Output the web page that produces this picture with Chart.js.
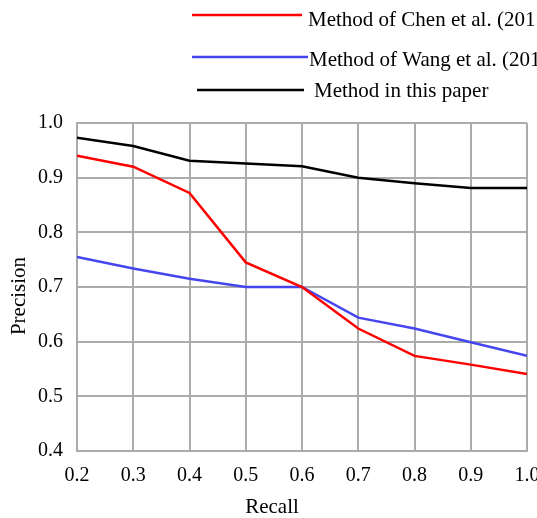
<!DOCTYPE html>
<html>
<head>
<meta charset="utf-8">
<script src="https://cdn.jsdelivr.net/npm/chart.js@4"></script>
<style>
  html, body { margin: 0; padding: 0; background: #fff; }
  #wrap { width: 537px; height: 518px; }
</style>
</head>
<body>
<div id="wrap"><canvas id="prChart" width="537" height="518"></canvas></div>
<script>
const recall = [0.2, 0.3, 0.4, 0.5, 0.6, 0.7, 0.8, 0.9, 1.0];
const chenPrecision = [0.94, 0.92, 0.872, 0.745, 0.70, 0.624, 0.574, 0.558, 0.541];
const wangPrecision = [0.755, 0.734, 0.715, 0.70, 0.70, 0.644, 0.624, 0.599, 0.574];
const oursPrecision = [0.973, 0.958, 0.931, 0.926, 0.921, 0.90, 0.89, 0.881, 0.881];
const seriesLabels = ['Method of Chen et al. (201', 'Method of Wang et al. (201', 'Method in this paper'];
const seriesColors = ['#ff0000', '#4646f0', '#000000'];
const xTitle = 'Recall';
const yTitle = 'Precision';

const serif = '"Liberation Serif", "DejaVu Serif", serif';
const gridCol = '#ababab';

function pts(vals) { return recall.map((r, i) => ({ x: r, y: vals[i] })); }

// legend lines + text, and the axis titles, placed like the figure
const legendPos = [
    { x0: 192, x1: 302, y: 15, tx: 308, ty: 26 },
    { x0: 192, x1: 308, y: 57, tx: 309, ty: 66 },
    { x0: 197, x1: 304, y: 90, tx: 314, ty: 97 }
];
const extras = {
    id: 'extras',
    afterDraw(chart) {
        const ctx = chart.ctx;
        ctx.save();
        ctx.font = '21px ' + serif;
        ctx.fillStyle = '#000';
        ctx.textBaseline = 'alphabetic';
        chart.data.datasets.forEach((ds, i) => {
            const p = legendPos[i];
            ctx.strokeStyle = ds.borderColor;
            ctx.lineWidth = 2.5;
            ctx.beginPath();
            ctx.moveTo(p.x0, p.y);
            ctx.lineTo(p.x1, p.y);
            ctx.stroke();
            ctx.textAlign = 'left';
            ctx.fillText(ds.label, p.tx, p.ty);
        });
        ctx.textAlign = 'center';
        ctx.fillText(xTitle, 272, 513);
        ctx.translate(25, 296);
        ctx.rotate(-Math.PI / 2);
        ctx.fillText(yTitle, 0, 0);
        ctx.restore();
    }
};

const ctx = document.getElementById('prChart').getContext('2d');
new Chart(ctx, {
    type: 'line',
    data: {
        datasets: [chenPrecision, wangPrecision, oursPrecision].map((vals, i) => ({
            label: seriesLabels[i],
            data: pts(vals),
            borderColor: seriesColors[i],
            backgroundColor: seriesColors[i],
            borderWidth: 2.5,
            pointRadius: 0,
            tension: 0,
            fill: false
        }))
    },
    options: {
        responsive: false,
        animation: false,
        layout: { padding: { top: 123, right: 10, left: 0, bottom: 0 } },
        plugins: { legend: { display: false }, tooltip: { enabled: false } },
        scales: {
            x: {
                type: 'linear',
                min: 0.2, max: 1.0,
                afterFit(s) { s.height = 67; s.paddingRight = 0; s.paddingLeft = 0; },
                grid: { color: gridCol, lineWidth: 2, drawTicks: false },
                border: { color: gridCol, width: 2 },
                ticks: {
                    stepSize: 0.1,
                    padding: 13,
                    maxRotation: 0,
                    color: '#000',
                    font: { family: serif, size: 20 },
                    callback: v => v.toFixed(1)
                }
            },
            y: {
                min: 0.4, max: 1.0,
                afterFit(s) { s.width = 77; s.paddingTop = 0; s.paddingBottom = 0; },
                grid: { color: gridCol, lineWidth: 2, drawTicks: false },
                border: { color: gridCol, width: 2 },
                ticks: {
                    stepSize: 0.1,
                    padding: 14,
                    color: '#000',
                    font: { family: serif, size: 20 },
                    callback: v => v.toFixed(1)
                }
            }
        }
    },
    plugins: [extras]
});
</script>
</body>
</html>
